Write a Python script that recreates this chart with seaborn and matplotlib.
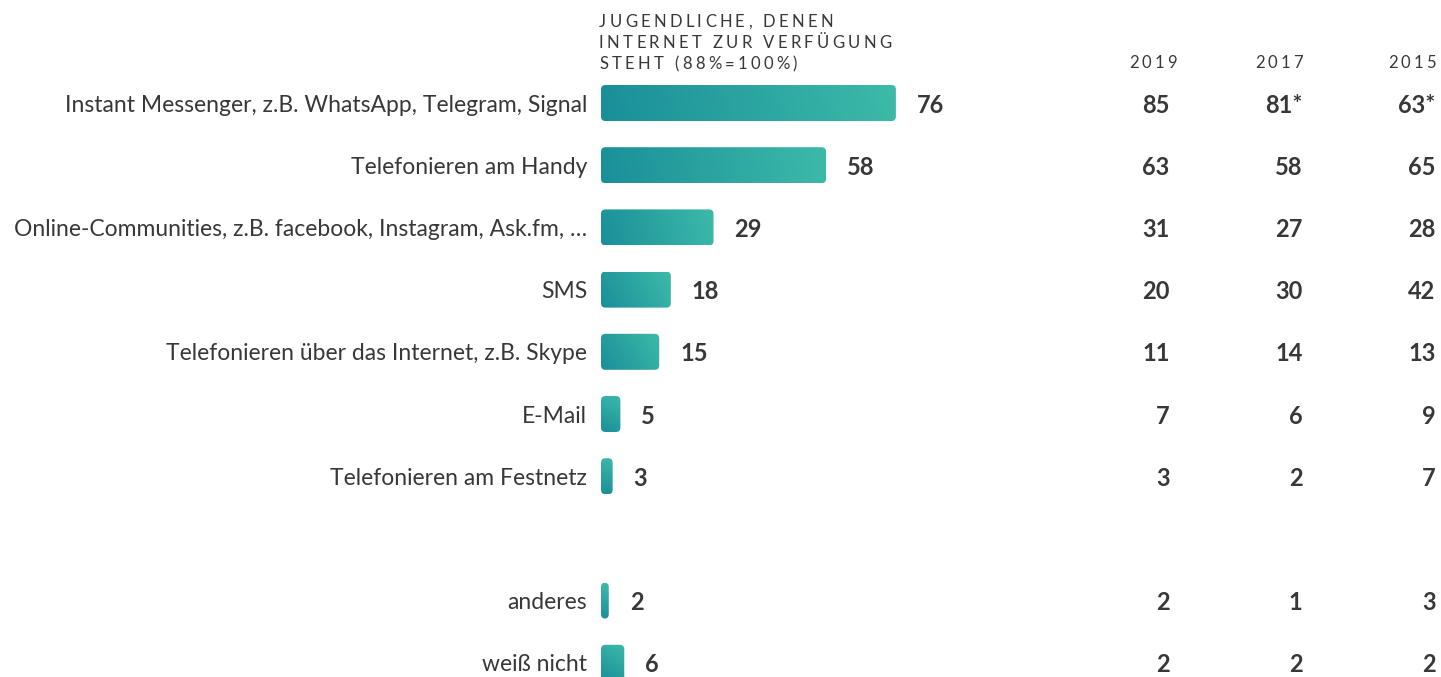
import numpy as np
import pandas as pd
import matplotlib
matplotlib.use("Agg")
import matplotlib.pyplot as plt
import seaborn as sns
from matplotlib.patches import FancyBboxPatch
from matplotlib.colors import to_rgb

# --- data -------------------------------------------------------------
categories = [
    "Instant Messenger, z.B. WhatsApp, Telegram, Signal",
    "Telefonieren am Handy",
    "Online-Communities, z.B. facebook, Instagram, Ask.fm, …",
    "SMS",
    "Telefonieren über das Internet, z.B. Skype",
    "E-Mail",
    "Telefonieren am Festnetz",
    "anderes",
    "weiß nicht",
]
values_2021 = [76, 58, 29, 18, 15, 5, 3, 2, 6]
values_2019 = ["85", "63", "31", "20", "11", "7", "3", "2", "2"]
values_2017 = ["81*", "58", "27", "30", "14", "6", "2", "1", "2"]
values_2015 = ["63*", "65", "28", "42", "13", "9", "7", "3", "2"]
year_labels = ["2019", "2017", "2015"]
header_lines = ["JUGENDLICHE, DENEN", "INTERNET ZUR VERFÜGUNG", "STEHT (88%=100%)"]

# spacer slot between the main items and the residual answers
SPACER = "\u2009"
order = categories[:7] + [SPACER] + categories[7:]

df = pd.DataFrame({"Kategorie": categories, "Anteil": values_2021})

# --- figure -----------------------------------------------------------
W, H = 1441, 677
fig = plt.figure(figsize=(W / 100, H / 100), dpi=100)
ax = fig.add_axes([0, 0, 1, 1])

TEXT = "#383838"
DARK = np.array(to_rgb("#1a8f99"))
LIGHT = np.array(to_rgb("#3dbaa9"))

x0_px = 601.0          # pixel position of value 0
px_per_unit = 3.88
row0_px = 103.0        # centre of first row
row_px = 62.2          # row pitch

sns.barplot(data=df, x="Anteil", y="Kategorie", order=order, orient="h",
            width=36 / row_px, color="#2aa3a0", ax=ax)

ax.set_xlim(-x0_px / px_per_unit, (W - x0_px) / px_per_unit)
ax.set_ylim((H - row0_px) / row_px, -row0_px / row_px)
ax.axis("off")

# replace flat bars by rounded bars with a bottom-left to top-right gradient
for patch in list(ax.patches):
    x, y = patch.get_x(), patch.get_y()
    w, h = patch.get_width(), patch.get_height()
    patch.remove()
    if not np.isfinite(w) or w <= 0:
        continue
    wpx, hpx = w * px_per_unit, h * row_px
    nx, ny = 96, 24
    u = np.linspace(0, 1, nx)[None, :]
    v = np.linspace(1, 0, ny)[:, None]  # v=1 at top row of the image
    # projection onto the box diagonal measured in pixels
    t = (u * wpx ** 2 + v * hpx ** 2) / (wpx ** 2 + hpx ** 2)
    img = DARK[None, None, :] + (LIGHT - DARK)[None, None, :] * t[..., None]
    rx = 4.5 / px_per_unit
    ry = 4.5 / row_px
    box = FancyBboxPatch((x, y), w, h,
                         boxstyle=f"round,pad=0,rounding_size={rx}",
                         mutation_aspect=ry / rx,
                         facecolor="none", edgecolor="none",
                         transform=ax.transData)
    ax.add_patch(box)
    im = ax.imshow(img, extent=(x, x + w, y + h, y), aspect="auto",
                   interpolation="bilinear", zorder=2)
    im.set_clip_path(box)

ax.set_xlim(-x0_px / px_per_unit, (W - x0_px) / px_per_unit)
ax.set_ylim((H - row0_px) / row_px, -row0_px / row_px)

# --- text -------------------------------------------------------------
FS = 16.5
NS = 17
fam = ["Lato", "DejaVu Sans"]
ypos = {cat: i for i, cat in enumerate(order)}
label_x = (587 - x0_px) / px_per_unit

col_right = [1169.5, 1302.5, 1435.5]
col_x = [(c - x0_px) / px_per_unit for c in col_right]
cols = [values_2019, values_2017, values_2015]

for i, cat in enumerate(categories):
    yy = ypos[cat]
    ax.text(label_x, yy, cat, ha="right", va="center_baseline",
            fontsize=FS, family=fam, color=TEXT)
    val = values_2021[i]
    ax.text(val + 21 / px_per_unit, yy, str(val), ha="left",
            va="center_baseline", fontsize=NS, family=fam,
            fontweight="bold", color=TEXT)
    for cx, col in zip(col_x, cols):
        ax.text(cx, yy, col[i], ha="right", va="center_baseline",
                fontsize=NS, family=fam, fontweight="bold", color=TEXT)

# letter-spaced captions, placed glyph by glyph in pixel coordinates
renderer = fig.canvas.get_renderer()


def tracked(x_px, y_px, s, size, track_px, ha="left"):
    glyphs = []
    for ch in s:
        t = fig.text(0, 0, ch, fontsize=size, family=fam, color=TEXT,
                     va="baseline", ha="left", transform=None)
        glyphs.append(t)
    widths = []
    for t in glyphs:
        ch = t.get_text()
        if ch == " ":
            t.set_text("a")
            wpx = t.get_window_extent(renderer).width * 0.55
            t.set_text(" ")
        else:
            wpx = t.get_window_extent(renderer).width
        widths.append(wpx)
    total = sum(widths) + track_px * (len(s) - 1)
    x = x_px - total if ha == "right" else x_px
    for t, wpx in zip(glyphs, widths):
        t.set_position((x, H - y_px))
        x += wpx + track_px


HS = 12
for k, line in enumerate(header_lines):
    tracked(599, 27 + k * 21.2, line, HS, 3.3)

for yl, cr in zip(year_labels, [1177, 1303, 1436]):
    tracked(cr, 68, yl, HS, 3.2, ha="right")

fig.savefig("out.png", dpi=100)
